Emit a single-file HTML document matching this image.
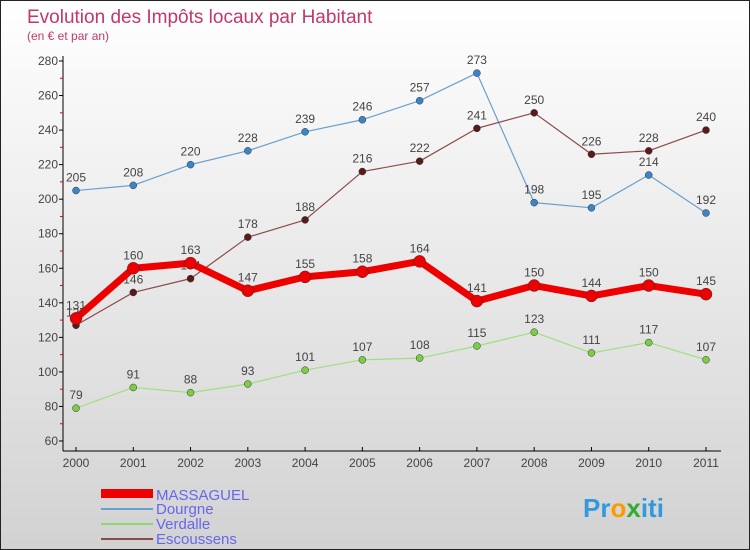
<!DOCTYPE html>
<html><head><meta charset="utf-8"><style>
body{margin:0}
#c{width:750px;height:550px;position:relative;box-sizing:border-box;border:1px solid #222;background:linear-gradient(#ffffff,#d2d2d2);font-family:"Liberation Sans",sans-serif;overflow:hidden}
text{font-family:"Liberation Sans",sans-serif}
</style></head><body>
<div id="c">
<svg id="s" width="750" height="550">
<text x="26" y="22" font-size="19" fill="#c0396a">Evolution des Impôts locaux par Habitant</text>
<text x="26" y="39" font-size="12" fill="#c0396a">(en € et par an)</text>
<g id="ax"></g><g id="ser"></g>
<g>
<rect x="100" y="488" width="52" height="9" fill="#e00"/>
<text x="155" y="499" font-size="15" fill="#6666ee">MASSAGUEL</text>
<rect x="100" y="507" width="52" height="2" fill="#6a9fd0"/>
<text x="155" y="513" font-size="15" fill="#6666ee">Dourgne</text>
<rect x="100" y="522" width="52" height="2" fill="#8fd870"/>
<text x="155" y="528" font-size="15" fill="#6666ee">Verdalle</text>
<rect x="100" y="537" width="52" height="2" fill="#8b4a4a"/>
<text x="155" y="543" font-size="15" fill="#6666ee">Escoussens</text>
</g>
<text x="582" y="516" font-size="26" font-weight="bold"><tspan fill="#3399dd">Pr</tspan><tspan fill="#ff9900">o</tspan><tspan fill="#33aa33">x</tspan><tspan fill="#3399dd">iti</tspan></text>
</svg></div>
<script>
const years=[2000,2001,2002,2003,2004,2005,2006,2007,2008,2009,2010,2011];
const yTicks=[60,80,100,120,140,160,180,200,220,240,260,280];
const massaguel=[131,160,163,147,155,158,164,141,150,144,150,145];
const dourgne=[205,208,220,228,239,246,257,273,198,195,214,192];
const verdalle=[79,91,88,93,101,107,108,115,123,111,117,107];
const escoussens=[127,146,154,178,188,216,222,241,250,226,228,240];
const NS="http://www.w3.org/2000/svg";
const X=i=>75+i*(630/11);
const Y=v=>440-(v-60)*(380/220);
function mk(p,t,a){const e=document.createElementNS(NS,t);for(const k in a)e.setAttribute(k,a[k]);p.appendChild(e);return e;}
const ax=document.getElementById('ax');
let l=mk(ax,'line',{x1:62,y1:55,x2:62,y2:450,stroke:'#000'});

l=mk(ax,'line',{x1:62,y1:450,x2:720,y2:450,stroke:'#000'});

yTicks.forEach((v,i)=>{
 mk(ax,'line',{x1:58,x2:62,y1:Y(v),y2:Y(v),stroke:'#000'});
 if(i<yTicks.length-1)mk(ax,'line',{x1:59,x2:62,y1:Y(v+10),y2:Y(v+10),stroke:'#e00'});
 const t=mk(ax,'text',{x:57,y:Y(v)+4,'font-size':12,fill:'#444','text-anchor':'end'});
 t.textContent=v;
 
});
years.forEach((y,i)=>{
 mk(ax,'line',{x1:X(i),x2:X(i),y1:446,y2:450,stroke:'#000'});
 const t=mk(ax,'text',{x:X(i),y:466,'font-size':12,fill:'#444','text-anchor':'middle'});
 t.textContent=y;
 
});
const ser=document.getElementById('ser');
function draw(data,name,col,dot,w,r){
 const g=mk(ser,'g',{});
 
 const p=mk(g,'polyline',{points:data.map((v,i)=>X(i)+','+Y(v)).join(' '),fill:'none',stroke:col,'stroke-width':w,'stroke-linejoin':'round'});
 
 data.forEach((v,i)=>{
  const c=mk(g,'circle',{cx:X(i),cy:Y(v),r:r,fill:dot,stroke:'#333','stroke-width':0.5});
  
  const t=mk(g,'text',{x:X(i),y:Y(v)-9,'font-size':12,fill:'#444','text-anchor':'middle'});
  t.textContent=v;
  
 });
}
draw(dourgne,'dourgne','#6a9fd0','#3a85c5',1.2,3.5);
draw(verdalle,'verdalle','#9ee080','#7ccc44',1.2,3.5);
draw(escoussens,'escoussens','#8b4a4a','#5a1a1a',1.2,3.5);
draw(massaguel,'massaguel','#ee0000','#ee0000',7,6);
</script>
</body></html>
